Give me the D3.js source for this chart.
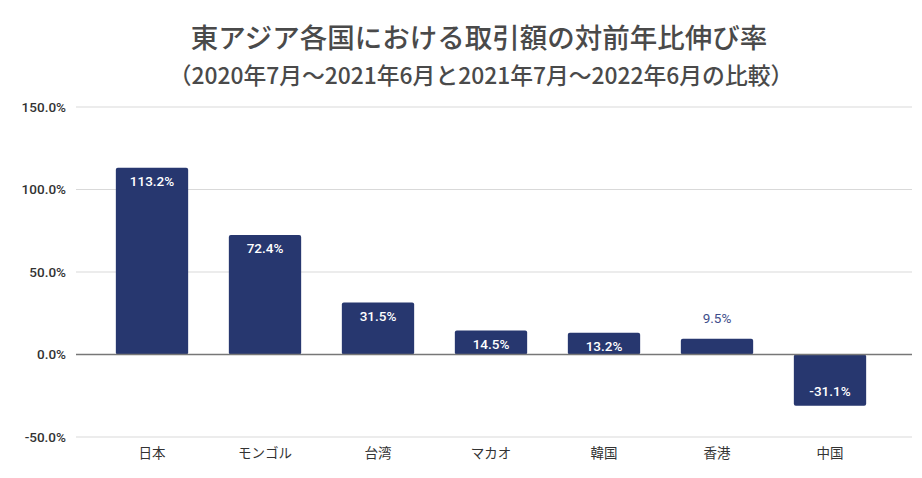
<!DOCTYPE html>
<html>
<head>
<meta charset="utf-8">
<script src="https://cdn.jsdelivr.net/npm/d3@7"></script>
<style>
  body { margin: 0; background: #fff; }
  svg { font-family: "Noto Sans CJK JP", "Noto Sans", sans-serif; }
</style>
</head>
<body>
<svg></svg>
<script>
var countries = ["日本", "モンゴル", "台湾", "マカオ", "韓国", "香港", "中国"]
var growth = [113.2, 72.4, 31.5, 14.5, 13.2, 9.5, -31.1]
var yTicks = [-50, 0, 50, 100, 150]

var dimensions = {
    width: 922,
    height: 478,
    margin: { top: 107, bottom: 41, left: 76, right: 10 }
}

var svg = d3.select("svg")
            .attr("width", dimensions.width)
            .attr("height", dimensions.height)

// title
svg.append("text")
   .attr("x", 479).attr("y", 48)
   .attr("text-anchor", "middle")
   .attr("font-size", 27.5).attr("font-weight", 500)
   .attr("fill", "#4a4a4a")
   .text("東アジア各国における取引額の対前年比伸び率")
svg.append("text")
   .attr("x", 481).attr("y", 84)
   .attr("text-anchor", "middle")
   .attr("font-size", 22.8).attr("font-weight", 500)
   .attr("fill", "#4a4a4a")
   .text("（2020年7月～2021年6月と2021年7月～2022年6月の比較）")

var yScale = d3.scaleLinear()
               .domain([-50, 150])
               .range([dimensions.height - dimensions.margin.bottom, dimensions.margin.top])

var xScale = d3.scaleBand()
               .domain(countries)
               .range([95.5, 886.5])
               .paddingInner(0.36)
               .paddingOuter(0.18)

// gridlines
svg.append("g")
   .selectAll("line")
   .data(yTicks)
   .enter()
   .append("line")
   .attr("x1", dimensions.margin.left)
   .attr("x2", dimensions.width - dimensions.margin.right)
   .attr("y1", d => yScale(d))
   .attr("y2", d => yScale(d))
   .attr("stroke", "#d9d9d9")
   .attr("stroke-width", 1)

// y axis labels
var yAxis = d3.axisLeft(yScale)
              .tickValues(yTicks)
              .tickFormat(d => d.toFixed(1) + "%")
              .tickSize(0)
              .tickPadding(0)
svg.append("g")
   .attr("transform", "translate(66,0)")
   .call(yAxis)
   .call(g => g.select(".domain").remove())
   .selectAll("text")
   .attr("font-size", 13.5)
   .attr("font-weight", 500)
   .attr("fill", "#333")
   .attr("font-family", "Roboto, sans-serif")

// bars
svg.append("g")
   .selectAll("rect")
   .data(growth)
   .enter()
   .append("rect")
   .attr("x", (d, i) => xScale(countries[i]))
   .attr("y", d => yScale(Math.max(0, d)))
   .attr("width", xScale.bandwidth())
   .attr("height", d => Math.abs(yScale(d) - yScale(0)))
   .attr("rx", 2)
   .attr("fill", "#27376f")

// zero line
svg.append("line")
   .attr("x1", dimensions.margin.left)
   .attr("x2", dimensions.width - dimensions.margin.right)
   .attr("y1", yScale(0))
   .attr("y2", yScale(0))
   .attr("stroke", "#777")
   .attr("stroke-width", 1.5)

// value labels (short bar -> label above in navy)
svg.append("g")
   .selectAll("text")
   .data(growth)
   .enter()
   .append("text")
   .attr("x", (d, i) => xScale(countries[i]) + xScale.bandwidth() / 2)
   .attr("y", d => {
       if (d < 0) return yScale(d) - 10
       if (d < 12) return yScale(d) - 16
       return yScale(d) + 18
   })
   .attr("text-anchor", "middle")
   .attr("font-size", 13.5)
   .attr("font-family", "Roboto, sans-serif")
   .attr("fill", d => (d >= 0 && d < 12) ? "#3e4d8a" : "#fff")
   .attr("font-weight", d => (d >= 0 && d < 12) ? "normal" : 500)
   .text(d => d.toFixed(1) + "%")

// category labels
var xAxis = d3.axisBottom(xScale).tickSize(0).tickPadding(0)
svg.append("g")
   .attr("transform", "translate(0," + (dimensions.height - 20) + ")")
   .call(xAxis)
   .call(g => g.select(".domain").remove())
   .selectAll("text")
   .attr("dy", 0)
   .attr("font-size", 13.5)
   .attr("fill", "#333")
   .attr("font-family", "Noto Sans CJK JP, sans-serif")
</script>
</body>
</html>
